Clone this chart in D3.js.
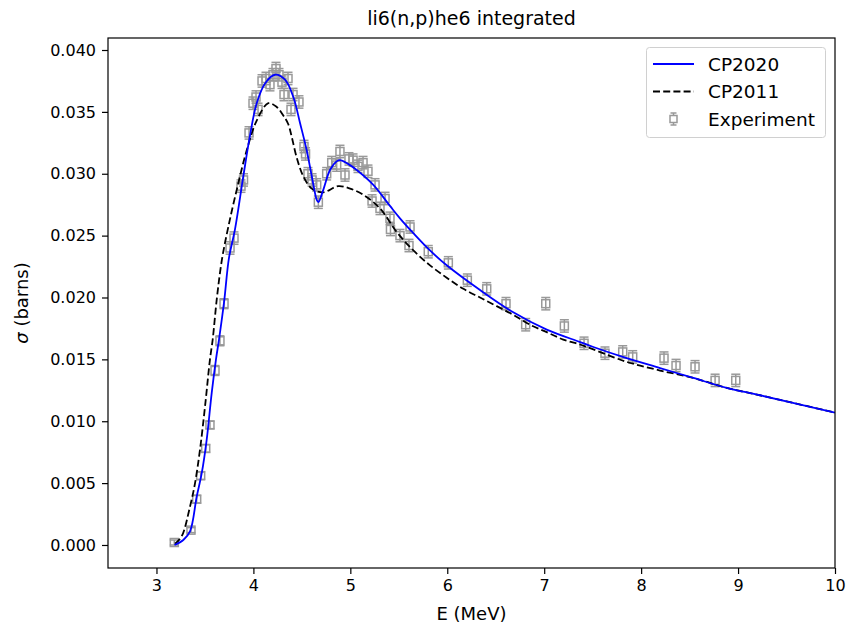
<!DOCTYPE html>
<html><head><meta charset="utf-8">
<script src="https://cdn.jsdelivr.net/npm/d3@7"></script>
<style>
body{margin:0;background:#fff;}
text{font-family:"DejaVu Sans",sans-serif;fill:#000;}
</style></head>
<body><svg id="c" width="859" height="626"></svg>
<script>
const title = "li6(n,p)he6 integrated";
const xTicks = [3,4,5,6,7,8,9,10];
const yTicks = [0,0.005,0.010,0.015,0.020,0.025,0.030,0.035,0.040];

const expE = [3.184,3.356,3.415,3.456,3.508,3.552,3.604,3.655,3.697,3.759,3.800,3.872,3.898,3.955,3.996,4.027,4.048,4.089,4.130,4.171,4.202,4.233,4.264,4.295,4.316,4.357,4.388,4.409,4.470,4.522,4.538,4.563,4.605,4.653,4.670,4.756,4.808,4.859,4.893,4.945,4.986,5.028,5.079,5.131,5.182,5.224,5.255,5.306,5.358,5.409,5.414,5.512,5.605,5.616,5.804,6.011,6.207,6.407,6.606,6.809,7.016,7.208,7.411,7.627,7.810,7.913,8.236,8.360,8.556,8.763,8.976];
const expSigma = [0.0002,0.0012,0.0037,0.0056,0.0078,0.0097,0.0141,0.0165,0.0195,0.0240,0.0248,0.0290,0.0295,0.0333,0.0357,0.0362,0.0352,0.0375,0.0377,0.0372,0.0380,0.0385,0.0380,0.0374,0.0364,0.0377,0.0352,0.0364,0.0358,0.0322,0.0316,0.0300,0.0295,0.0291,0.0277,0.0300,0.0309,0.0307,0.0318,0.0299,0.0312,0.0311,0.0306,0.0309,0.0302,0.0278,0.0291,0.0272,0.0280,0.0264,0.0255,0.0250,0.0242,0.0257,0.0237,0.0228,0.0214,0.0207,0.0195,0.0178,0.0195,0.0177,0.0163,0.0155,0.0156,0.0152,0.0151,0.0145,0.0144,0.0133,0.0133];
const expErr = [0.0002,0.0002,0.0003,0.0003,0.0003,0.0003,0.0004,0.0004,0.0004,0.0005,0.0005,0.0005,0.0005,0.0005,0.0005,0.0005,0.0005,0.0005,0.0005,0.0005,0.0005,0.0005,0.0005,0.0005,0.0005,0.0005,0.0005,0.0005,0.0005,0.0005,0.0005,0.0005,0.0005,0.0005,0.0005,0.0005,0.0005,0.0005,0.0005,0.0005,0.0005,0.0005,0.0005,0.0005,0.0005,0.0005,0.0005,0.0005,0.0005,0.0005,0.0005,0.0005,0.0005,0.0005,0.0005,0.0005,0.0005,0.0005,0.0005,0.0005,0.0005,0.0005,0.0005,0.0005,0.0005,0.0005,0.0005,0.0005,0.0005,0.0005,0.0005];

const cp2020E = [3.186,3.277,3.346,3.415,3.467,3.518,3.570,3.614,3.645,3.697,3.748,3.810,3.896,3.965,4.034,4.120,4.223,4.326,4.412,4.481,4.550,4.602,4.653,4.670,4.721,4.790,4.859,4.893,4.976,5.066,5.237,5.409,5.512,5.650,5.822,5.994,6.338,6.681,7.026,7.370,7.507,7.851,8.195,8.538,8.883,9.226,10.0];
const cp2020S = [0.0000,0.0004,0.0011,0.0039,0.0058,0.0085,0.0123,0.0150,0.0166,0.0196,0.0232,0.0255,0.0298,0.0331,0.0357,0.0373,0.0380,0.0376,0.0362,0.0341,0.0319,0.0298,0.0279,0.0277,0.0287,0.0303,0.0310,0.0311,0.0308,0.0303,0.0291,0.0274,0.0264,0.0252,0.0238,0.0226,0.0206,0.0188,0.0174,0.0164,0.0160,0.0151,0.0143,0.0135,0.0127,0.0121,0.0107];

const cp2011E = [3.191,3.260,3.346,3.398,3.449,3.501,3.552,3.580,3.624,3.676,3.741,3.828,3.931,4.034,4.154,4.240,4.309,4.360,4.395,4.447,4.515,4.602,4.721,4.876,4.997,5.134,5.306,5.478,5.650,5.822,5.994,6.166,6.338,6.510,6.681,6.854,7.026,7.197,7.370,7.507,7.851,8.195,8.538,8.883,9.226,10.0];
const cp2011S = [0.0001,0.0007,0.0031,0.0050,0.0077,0.0112,0.0150,0.0166,0.0200,0.0231,0.0257,0.0287,0.0319,0.0343,0.0357,0.0354,0.0347,0.0340,0.0330,0.0313,0.0298,0.0288,0.0285,0.0290,0.0288,0.0283,0.0272,0.0253,0.0238,0.0226,0.0216,0.0207,0.0200,0.0193,0.0186,0.0178,0.0172,0.0166,0.0162,0.0158,0.0148,0.0141,0.0135,0.0127,0.0121,0.0107];

const legendLabels = ["CP2020","CP2011","Experiment"];

const L=108,R=835,T=38,B=568;
const svg=d3.select("#c");
const x=d3.scaleLinear().domain([2.5,10]).range([L,R]);
const y=d3.scaleLinear().domain([-0.00186,0.04097]).range([B,T]);

svg.append("clipPath").attr("id","clip").append("rect").attr("x",L).attr("y",T).attr("width",R-L).attr("height",B-T);
const g=svg.append("g").attr("clip-path","url(#clip)");

const grey="#999999";
const pts=expE.map((e,i)=>({e,s:expSigma[i],d:expErr[i]}));
const pg=g.append("g");
pts.forEach(p=>{
  const cx=x(p.e), cy=y(p.s), y1=y(p.s-p.d), y2=y(p.s+p.d);
  pg.append("line").attr("x1",cx).attr("x2",cx).attr("y1",y1).attr("y2",y2).attr("stroke",grey).attr("stroke-width",1.5);
  pg.append("line").attr("x1",cx-4.5).attr("x2",cx+4.5).attr("y1",y1).attr("y2",y1).attr("stroke",grey).attr("stroke-width",1.5);
  pg.append("line").attr("x1",cx-4.5).attr("x2",cx+4.5).attr("y1",y2).attr("y2",y2).attr("stroke",grey).attr("stroke-width",1.5);
  pg.append("rect").attr("x",cx-4).attr("y",cy-4).attr("width",8).attr("height",8).attr("fill","none").attr("stroke",grey).attr("stroke-width",1.5);
});

const line=d3.line().x(d=>x(d[0])).y(d=>y(d[1])).curve(d3.curveCatmullRom.alpha(0.5));
g.append("path").datum(cp2011E.map((e,i)=>[e,cp2011S[i]])).attr("d",line).attr("fill","none").attr("stroke","#000").attr("stroke-width",1.8).attr("stroke-dasharray","7,3.2");
g.append("path").datum(cp2020E.map((e,i)=>[e,cp2020S[i]])).attr("d",line).attr("fill","none").attr("stroke","#0000ff").attr("stroke-width",1.8);

const xa=svg.append("g").attr("transform",`translate(0,${B})`).call(d3.axisBottom(x).tickValues(xTicks).tickFormat(d3.format("d")).tickSize(6).tickPadding(6));
const ya=svg.append("g").attr("transform",`translate(${L},0)`).call(d3.axisLeft(y).tickValues(yTicks).tickFormat(d3.format(".3f")).tickSize(6).tickPadding(6));
[xa,ya].forEach(a=>{a.select(".domain").remove();a.selectAll("line").attr("stroke","#000").attr("stroke-width",1.2);a.selectAll("text").attr("font-size",16).attr("font-family","DejaVu Sans");});
svg.append("rect").attr("x",L).attr("y",T).attr("width",R-L).attr("height",B-T).attr("fill","none").attr("stroke","#000").attr("stroke-width",1.2);

svg.append("text").attr("x",(L+R)/2).attr("y",25).attr("text-anchor","middle").attr("font-size",19).text(title);
svg.append("text").attr("x",(L+R)/2).attr("y",620).attr("text-anchor","middle").attr("font-size",18).text("E (MeV)");
svg.append("text").attr("transform",`translate(28,${(T+B)/2}) rotate(-90)`).attr("text-anchor","middle").attr("font-size",18)
  .html('<tspan font-style="italic">σ</tspan> (barns)');

const lg=svg.append("g");
lg.append("rect").attr("x",646.5).attr("y",47.5).attr("width",179).attr("height",90).attr("rx",3).attr("fill","#fff").attr("fill-opacity",0.8).attr("stroke","#d0d0d0").attr("stroke-width",1);
const rows=[64,91.5,119];
lg.append("line").attr("x1",653).attr("x2",694).attr("y1",rows[0]).attr("y2",rows[0]).attr("stroke","#0000ff").attr("stroke-width",1.8);
lg.append("line").attr("x1",653).attr("x2",694).attr("y1",rows[1]).attr("y2",rows[1]).attr("stroke","#000").attr("stroke-width",1.8).attr("stroke-dasharray","7,3.2");
const mx=673.5, my=rows[2];
lg.append("line").attr("x1",mx).attr("x2",mx).attr("y1",my-6).attr("y2",my+6).attr("stroke",grey).attr("stroke-width",1.5);
lg.append("line").attr("x1",mx-3).attr("x2",mx+3).attr("y1",my-6).attr("y2",my-6).attr("stroke",grey).attr("stroke-width",1.5);
lg.append("line").attr("x1",mx-3).attr("x2",mx+3).attr("y1",my+6).attr("y2",my+6).attr("stroke",grey).attr("stroke-width",1.5);
lg.append("rect").attr("x",mx-3.5).attr("y",my-3.5).attr("width",7).attr("height",7).attr("fill","#fff").attr("stroke",grey).attr("stroke-width",1.5);
legendLabels.forEach((t,i)=>lg.append("text").attr("x",708).attr("y",rows[i]+6.5).attr("font-size",18.5).text(t));
</script></body></html>
